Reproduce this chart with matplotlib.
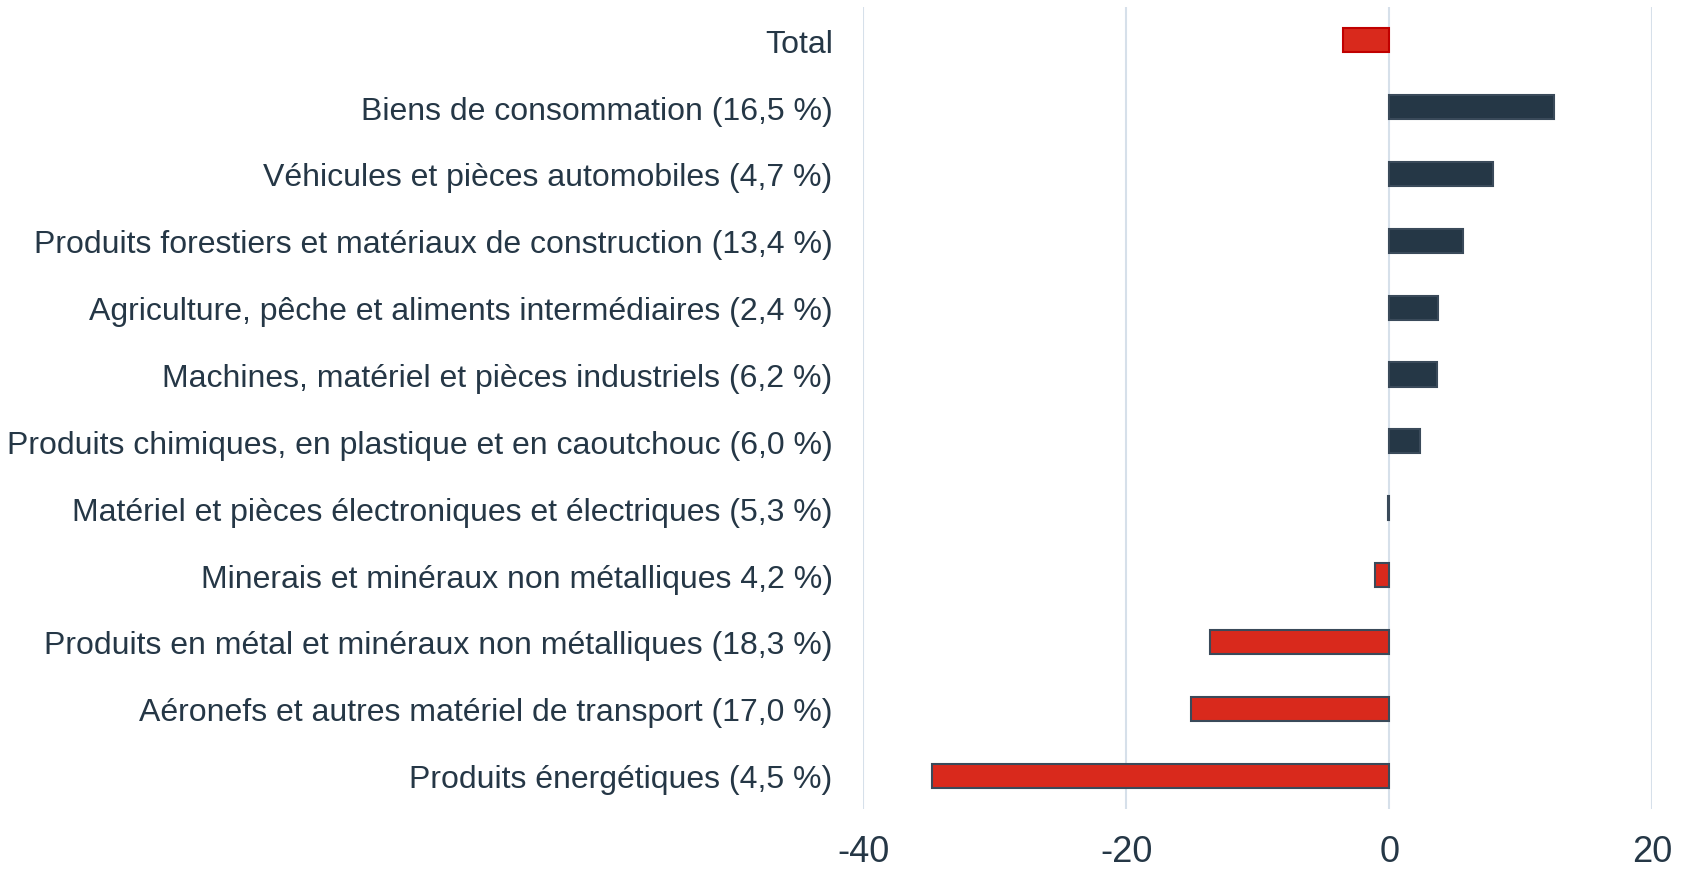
import numpy as np
import matplotlib.pyplot as plt

plt.rcParams['font.family'] = ['Liberation Sans', 'DejaVu Sans']

# Données (de haut en bas)
categories = [
    "Total",
    "Biens de consommation (16,5 %)",
    "Véhicules et pièces automobiles (4,7 %)",
    "Produits forestiers et matériaux de construction (13,4 %)",
    "Agriculture, pêche et aliments intermédiaires (2,4 %)",
    "Machines, matériel et pièces industriels (6,2 %)",
    "Produits chimiques, en plastique et en caoutchouc (6,0 %)",
    "Matériel et pièces électroniques et électriques (5,3 %)",
    "Minerais et minéraux non métalliques 4,2 %)",
    "Produits en métal et minéraux non métalliques (18,3 %)",
    "Aéronefs et autres matériel de transport (17,0 %)",
    "Produits énergétiques (4,5 %)",
]
valeurs = [-3.5, 12.5, 7.9, 5.6, 3.7, 3.6, 2.3, -0.1, -1.1, -13.6, -15.1, -34.8]
ticks_x = [-40, -20, 0, 20]

texte = "#253746"
rouge = "#d9291c"
marine = "#253746"

fig = plt.figure(figsize=(16.86, 8.7), dpi=100)
ax = fig.add_axes([0.512, 0.069, 0.468, 0.922])

y = np.arange(len(categories))
couleurs = [rouge if v < 0 else marine for v in valeurs]
bords = ["#c00000" if c == "Total" else "#3a4a5a" for c in categories]
ax.barh(y, valeurs, height=0.36, color=couleurs, edgecolor=bords, linewidth=1.5, zorder=3)

ax.set_ylim(len(categories) - 0.5, -0.5)
ax.set_xlim(-40, 20)
ax.set_yticks(y)
ax.set_yticklabels(categories, fontsize=23, color=texte)
ax.set_xticks(ticks_x)
ax.set_xticklabels([str(t) for t in ticks_x], fontsize=26, color=texte)
ax.tick_params(axis='y', length=0, pad=22)
ax.tick_params(axis='x', length=0, pad=18)
ax.grid(axis='x', color="#d6e0ea", linewidth=1.5, zorder=0)
for s in ax.spines.values():
    s.set_visible(False)

fig.savefig("out.png", dpi=100)
